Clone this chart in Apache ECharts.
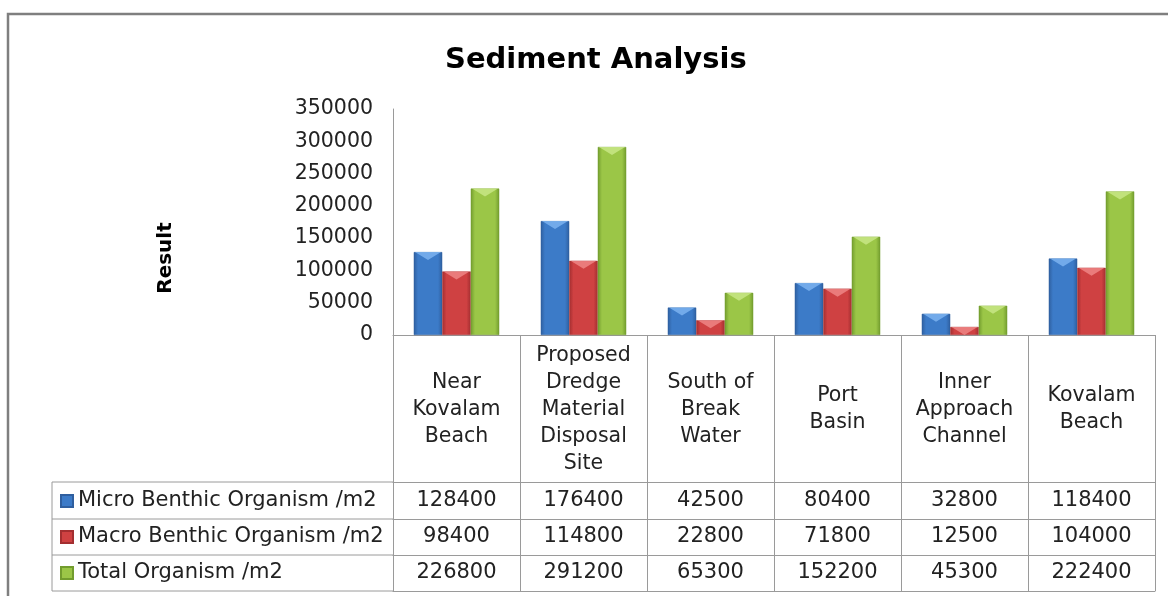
<!DOCTYPE html>
<html>
<head>
<meta charset="utf-8">
<script src="https://cdn.jsdelivr.net/npm/echarts@6/dist/echarts.min.js"></script>
<style>
html,body{margin:0;padding:0;background:#fff;}
#chart{width:1168px;height:596px;}
</style>
</head>
<body>
<div id="chart"></div>
<script>
// ---- data ----
const categories = [
  "Near\nKovalam\nBeach",
  "Proposed\nDredge\nMaterial\nDisposal\nSite",
  "South of\nBreak\nWater",
  "Port\nBasin",
  "Inner\nApproach\nChannel",
  "Kovalam\nBeach"
];
const seriesNames = ["Micro Benthic Organism /m2", "Macro Benthic Organism /m2", "Total Organism /m2"];
const micro = [128400, 176400, 42500, 80400, 32800, 118400];
const macro = [98400, 114800, 22800, 71800, 12500, 104000];
const total = [226800, 291200, 65300, 152200, 45300, 222400];
const yTicks = [0, 50000, 100000, 150000, 200000, 250000, 300000, 350000];

// ---- style ----
const FONT = "DejaVu Sans, Verdana, sans-serif";
const TXT = "#222222";
const LINE = "#9a9a9a";
const palettes = [
  {edge: "#2f5f9f", mid: "#3c7bc8", top: "#7fb6f2"},
  {edge: "#a32e30", mid: "#cf4142", top: "#f08a8a"},
  {edge: "#729c2e", mid: "#9bc647", top: "#cbe88a"}
];
function grad(p) {
  return new echarts.graphic.LinearGradient(0, 0, 1, 0, [
    {offset: 0, color: p.edge},
    {offset: 0.15, color: p.mid},
    {offset: 0.85, color: p.mid},
    {offset: 1, color: p.edge}
  ]);
}
const dataSets = [micro, macro, total];

const GRID_TOP = 109, GRID_BOTTOM_Y = 335, HEADER_H = 147;
const ROW_H = [37, 36, 36];

const chart = echarts.init(document.getElementById('chart'));

const xAxes = [{
  type: 'category', data: categories, gridIndex: 0, position: 'bottom', offset: 0,
  axisLine: {show: true, lineStyle: {color: LINE, width: 1}},
  axisTick: {show: true, interval: 0, length: HEADER_H, lineStyle: {color: LINE}},
  axisLabel: {interval: 0, margin: HEADER_H / 2 + 1, verticalAlign: 'middle', fontFamily: FONT,
    fontSize: 20.5, lineHeight: 27, color: TXT, align: 'center'}
}];
let off = HEADER_H;
dataSets.forEach((arr, k) => {
  xAxes.push({
    type: 'category', data: categories, gridIndex: 0, position: 'bottom', offset: off,
    axisLine: {show: true, lineStyle: {color: LINE, width: 1}},
    axisTick: {show: true, interval: 0, length: ROW_H[k], lineStyle: {color: LINE}},
    axisLabel: {interval: 0, margin: ROW_H[k] / 2, verticalAlign: 'middle', fontFamily: FONT,
      fontSize: 21, color: TXT, formatter: (v, i) => String(arr[i])}
  });
  off += ROW_H[k];
});
xAxes.push({
  type: 'category', data: categories, gridIndex: 0, position: 'bottom', offset: off,
  axisLine: {show: true, lineStyle: {color: LINE, width: 1}},
  axisTick: {show: false}, axisLabel: {show: false}
});

const series = [];
dataSets.forEach((arr, k) => {
  series.push({
    name: seriesNames[k], type: 'bar', data: arr, xAxisIndex: 0,
    barWidth: 28.5, barGap: '0%',
    itemStyle: {color: grad(palettes[k]), borderColor: palettes[k].edge, borderWidth: 0.5}
  });
});
dataSets.forEach((arr, k) => {
  series.push({
    type: 'pictorialBar', data: arr, xAxisIndex: 0, barWidth: 28.5, barGap: '0%',
    symbol: 'path://M0,0 L20,0 L10,6 Z', symbolSize: [26, 8], symbolPosition: 'end',
    symbolRepeat: false, z: 3, silent: true,
    itemStyle: {color: palettes[k].top, opacity: 0.8},
    legendHoverLink: false
  });
});

const tableLeft = 52, tableRight = 393;
const rowYs = [482, 519, 555, 591];
const graphics = [
  {type: 'rect', shape: {x: 8, y: 14, width: 1200, height: 700}, style: {fill: 'none', stroke: '#7f7f7f', lineWidth: 2.5}, z: 0},
  {type: 'text', x: 166, y: 258, rotation: Math.PI / 2,
    style: {text: 'Result', font: 'bold 20px ' + FONT, fill: '#000', textAlign: 'center', textVerticalAlign: 'middle'}},
  {type: 'line', shape: {x1: tableLeft, y1: rowYs[0], x2: tableLeft, y2: rowYs[3]}, style: {stroke: LINE, lineWidth: 1}}
];
rowYs.forEach(y => graphics.push({type: 'line', shape: {x1: tableLeft, y1: y, x2: tableRight, y2: y}, style: {stroke: LINE, lineWidth: 1}}));

chart.setOption({
  animation: false,
  backgroundColor: '#fff',
  title: {text: 'Sediment Analysis', left: 440, top: 41,
    textStyle: {fontFamily: FONT, fontSize: 29, fontWeight: 'bold', color: '#000'}},
  legend: {
    orient: 'vertical', left: 60, top: 483, itemGap: 0, padding: 0,
    itemWidth: 12, itemHeight: 12, icon: 'rect', data: seriesNames,
    textStyle: {fontFamily: FONT, fontSize: 21, color: TXT, lineHeight: 36}
  },
  grid: {left: 393, top: GRID_TOP, width: 762, height: GRID_BOTTOM_Y - GRID_TOP, containLabel: false},
  xAxis: xAxes,
  yAxis: {
    type: 'value', min: yTicks[0], max: yTicks[yTicks.length - 1], interval: yTicks[1] - yTicks[0],
    axisLine: {show: true, lineStyle: {color: LINE}},
    axisTick: {show: false}, splitLine: {show: false},
    axisLabel: {fontFamily: FONT, fontSize: 20.5, color: TXT, margin: 20, formatter: v => String(v)}
  },
  series: series,
  graphic: graphics
});
</script>
</body>
</html>
